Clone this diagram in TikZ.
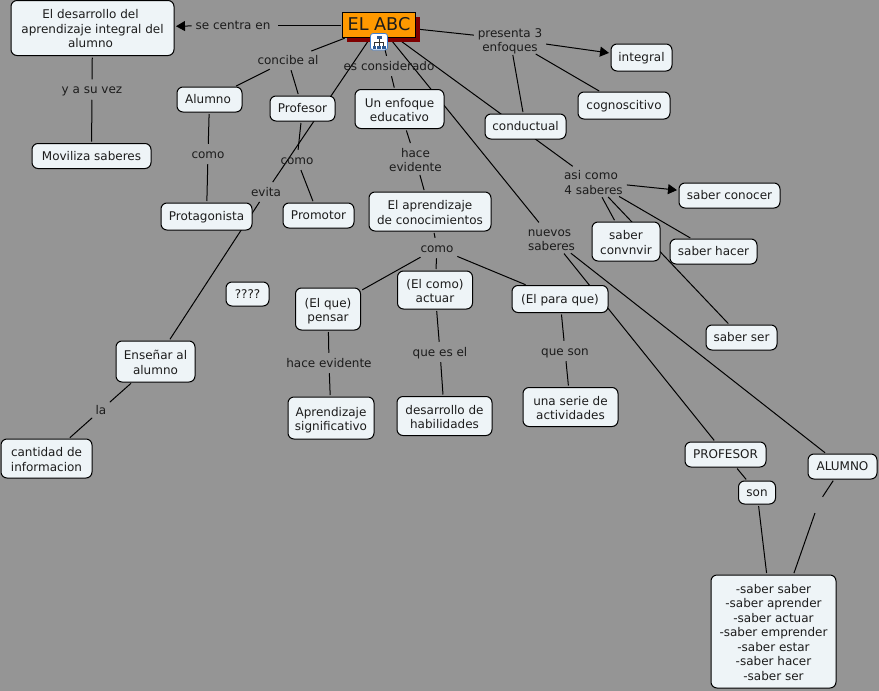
\documentclass[tikz,border=0pt]{standalone}
\usepackage{fontspec}
\setmainfont{DejaVu Sans}
\usetikzlibrary{arrows.meta,shadows,backgrounds}
\definecolor{bggray}{HTML}{959595}
\definecolor{nodefill}{HTML}{EEF4F7}
\definecolor{inktext}{HTML}{1C1C1C}
\definecolor{abcfill}{HTML}{FF9900}
\definecolor{abcshadow}{HTML}{7F0000}
\definecolor{iconblue}{HTML}{3F7FD0}
\newcommand\txtlast{\rule[-3pt]{0pt}{14.5pt}}
\newcommand\firstln{\rule{0pt}{13.5pt}}
\tikzset{
  x=1pt,y=-1pt,
  txt/.style={font=\fontsize{12}{14.5}\selectfont,text=inktext,align=center,
    execute at begin node=\txtlast,execute at end node=\txtlast},
  cpt/.style 2 args={txt,rounded corners=6,draw=black,fill=nodefill,line width=1,
    minimum width=#1,minimum height=#2,inner sep=0,outer sep=0},
  lnk/.style={txt,inner xsep=2,inner ysep=1,outer sep=0},
  lnktwo/.style={lnk,inner ysep=-1.5},
  conn/.style={draw=black,line width=1,shorten <=2,shorten >=2},
  arr/.style={conn,-{Triangle[length=9,width=10]}},
}
\begin{document}
\begin{tikzpicture}
\useasboundingbox (0,0) rectangle (879,691);
\begin{scope}[on background layer]
  \fill[bggray] (0,0) rectangle (879,691);
\end{scope}
% concepts
\node[cpt={73}{25},sharp corners,fill=abcfill,general shadow={fill=abcshadow,shadow xshift=4pt,shadow yshift=-4pt},font=\fontsize{17.6}{20}\selectfont] (abc) at (379,25) {EL ABC};
\node[cpt={163}{55}] (des) at (92.5,28) {\firstln El desarrollo del\hspace*{4pt}\\aprendizaje integral del\hspace*{4pt}\\alumno\hspace*{4pt}};
\node[cpt={119}{25}] (mov) at (91.5,156) {Moviliza saberes};
\node[cpt={65}{25}] (alu) at (209.5,99.5) {Alumno\hspace*{3pt}};
\node[cpt={65}{25}] (pro) at (302.5,108.5) {Profesor};
\node[cpt={89}{39}] (enf) at (399.5,109) {\firstln Un enfoque\\educativo};
\node[cpt={91}{27}] (prt) at (206.5,216.5) {Protagonista};
\node[cpt={71}{25}] (prm) at (318.5,215.5) {Promotor};
\node[cpt={122}{39}] (apr) at (430,211.5) {\firstln El aprendizaje\\de conocimientos};
\node[cpt={61}{27}] (int) at (641.5,57.5) {integral};
\node[cpt={92}{27}] (cog) at (624,105.5) {cognoscitivo};
\node[cpt={81}{25}] (con) at (525.5,126.5) {conductual};
\node[cpt={101}{25}] (sco) at (729.5,195.5) {saber conocer};
\node[cpt={87}{25}] (sha) at (713.5,251.5) {saber hacer};
\node[cpt={68}{39}] (scv) at (626,241.5) {\firstln saber\\convnvir};
\node[cpt={71}{25}] (sse) at (741.5,337.5) {saber ser};
\node[cpt={43}{24}] (qqq) at (247.5,294) {????};
\node[cpt={79}{41}] (ens) at (155.5,361.5) {\firstln Enseñar al\\alumno};
\node[cpt={91}{39}] (can) at (46.5,458.5) {\firstln cantidad de\\informacion};
\node[cpt={65}{42}] (que) at (328,309) {\firstln (El que)\\pensar};
\node[cpt={75}{38}] (cmo) at (435,290) {\firstln (El como)\\actuar};
\node[cpt={96}{27}] (par) at (560,299) {(El para que)};
\node[cpt={86}{42}] (sig) at (331,418) {\firstln Aprendizaje\\significativo};
\node[cpt={95}{39}] (hab) at (444.5,416) {\firstln desarrollo de\\habilidades};
\node[cpt={95}{39}] (act) at (570.5,407) {\firstln una serie de\\actividades};
\node[cpt={81}{25}] (prf) at (725.5,454.5) {PROFESOR};
\node[cpt={37}{23}] (son) at (757,492.5) {son};
\node[cpt={69}{25}] (alm) at (842.5,466.5) {ALUMNO};
\node[cpt={125}{113}] (sab) at (773.5,631.5) {\firstln -saber saber\\-saber aprender\\-saber actuar\\-saber emprender\\-saber estar\\-saber hacer\\-saber ser};
% linking phrases
\node[lnk] (lse) at (235,25) {se centra en\hspace*{4pt}};
\node[lnk] (lyv) at (92,89.5) {y a su vez};
\node[lnk] (lcb) at (288,60) {concibe al};
\node[lnk] (les) at (389,66) {es considerado};
\node[lnktwo] (lhe) at (415.5,159) {\firstln hace\\evidente};
\node[lnk] (lco) at (437,248) {como};
\node[lnk] (lh2) at (329,363) {hace evidente};
\node[lnk] (lqe) at (440,352) {que es el};
\node[lnk] (lqs) at (565,351) {que son};
\node[lnk] (lc1) at (208,154) {como};
\node[lnk] (lc2) at (297,160) {como};
\node[lnk] (lev) at (266,192) {evita};
\node[lnk] (lla) at (101,410) {la};
\node[lnktwo] (lpr) at (510,39) {\firstln presenta 3\\enfoques};
\node[lnktwo] (las) at (593.5,181.5) {\firstln asi como\hspace*{5pt}\\4 saberes};
\node[lnktwo] (lnu) at (551.5,238) {\firstln nuevos\hspace*{4pt}\\saberes};
\node[lnk,minimum width=6,minimum height=14] (lbl) at (818.5,503) {};
% connectors
\begin{scope}[on background layer]
  \draw[conn] (abc) -- (lse);
  \draw[arr] (lse) -- (des);
  \draw[conn] (des) -- (lyv);
  \draw[conn] (lyv) -- (mov);
  \draw[conn] (abc) -- (lcb);
  \draw[conn] (lcb) -- (alu);
  \draw[conn] (lcb) -- (pro);
  \draw[conn] (alu) -- (lc1);
  \draw[conn] (lc1) -- (prt);
  \draw[conn] (pro) -- (lc2);
  \draw[conn] (lc2) -- (prm);
  \draw[conn] (abc) -- (lev);
  \draw[conn] (lev) -- (ens);
  \draw[conn] (ens) -- (lla);
  \draw[conn] (lla) -- (can);
  \draw[conn] (abc) -- (les);
  \draw[conn] (les) -- (enf);
  \draw[conn] (enf) -- (lhe);
  \draw[conn] (lhe) -- (apr);
  \draw[conn] (apr) -- (lco);
  \draw[conn] (lco) -- (que);
  \draw[conn] (lco) -- (cmo);
  \draw[conn] (lco) -- (par);
  \draw[conn] (que) -- (lh2);
  \draw[conn] (lh2) -- (sig);
  \draw[conn] (cmo) -- (lqe);
  \draw[conn] (lqe) -- (hab);
  \draw[conn] (par) -- (lqs);
  \draw[conn] (lqs) -- (act);
  \draw[conn] (abc) -- (lpr);
  \draw[arr] (lpr) -- (int);
  \draw[conn] (lpr) -- (cog);
  \draw[conn] (lpr) -- (con);
  \draw[conn] (abc) -- (las);
  \draw[arr] (las) -- (sco);
  \draw[conn] (las) -- (scv);
  \draw[conn] (las) -- (sha);
  \draw[conn] (las) -- (sse);
  \draw[conn] (abc) -- (lnu);
  \draw[conn] (lnu) -- (prf);
  \draw[conn] (lnu) -- (alm);
  \draw[conn] (prf) -- (son);
  \draw[conn] (son) -- (sab);
  \draw[conn] (alm) -- (lbl);
  \draw[conn] (lbl) -- (sab);
\end{scope}
% map icon on the root concept
\draw[iconblue,fill=white,rounded corners=2.5,line width=0.8] (370.5,33.5) rectangle (387.5,50);
\draw[black!80,line width=0.6] (379,38) -- (379,42) (374.5,46) -- (374.5,42) -- (383.5,42) -- (383.5,46) (379,42) -- (379,46);
\fill[iconblue!70!black] (376.5,35.5) rectangle (381.5,38.5);
\fill[iconblue!70!black] (372.5,45.5) rectangle (376,48.5);
\fill[iconblue!70!black] (377.2,45.5) rectangle (380.8,48.5);
\fill[iconblue!70!black] (382,45.5) rectangle (385.5,48.5);
\end{tikzpicture}
\end{document}
